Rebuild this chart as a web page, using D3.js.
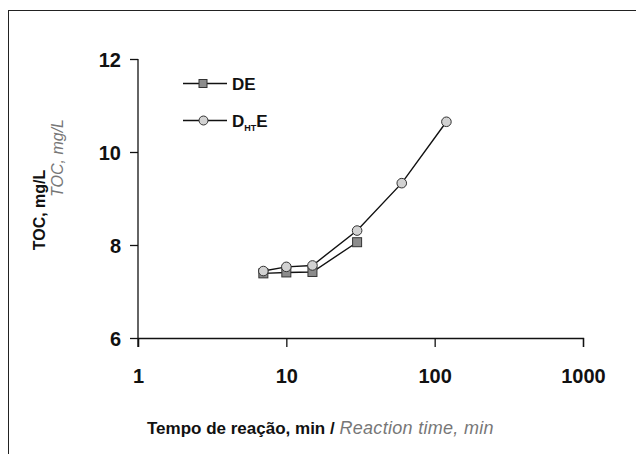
<!DOCTYPE html>
<html>
<head>
<meta charset="utf-8">
<script src="https://cdn.jsdelivr.net/npm/d3@7"></script>
<style>
  body { margin: 0; background: #fff; }
  text { font-family: "Liberation Sans", Arial, sans-serif; font-weight: bold; }
</style>
</head>
<body>
<div id="content"></div>
<script>
// reaction time (min) and TOC (mg/L)
var timeDE = [7, 10, 15, 30],
    tocDE = [7.39, 7.41, 7.42, 8.06],
    timeDHTE = [7, 10, 15, 30, 60, 120],
    tocDHTE = [7.44, 7.53, 7.56, 8.31, 9.33, 10.65],
    xTicks = [1, 10, 100, 1000],
    yTicks = [6, 8, 10, 12];

var width = 636,
    height = 454,
    svg = d3.select('#content').append('svg')
        .attr('width', width)
        .attr('height', height),

    xScale = d3.scaleLog().domain([1, 1000]).range([138, 583]),
    yScale = d3.scaleLinear().domain([6, 12]).range([338, 59]);

// frame
svg.append('rect')
    .attr('x', 8.5).attr('y', 10.5)
    .attr('width', 700).attr('height', 500)
    .attr('fill', 'none').attr('stroke', '#222').attr('stroke-width', 1);

var xAxis = d3.axisBottom(xScale)
        .tickValues(xTicks)
        .tickFormat(d3.format('d'))
        .tickSize(9)
        .tickPadding(22),
    yAxis = d3.axisLeft(yScale)
        .tickValues(yTicks)
        .tickFormat(d3.format('d'))
        .tickSize(8)
        .tickPadding(9);

var gx = svg.append('g')
    .attr('transform', 'translate(0,' + yScale(6) + ')')
    .call(xAxis);
var gy = svg.append('g')
    .attr('transform', 'translate(' + xScale(1) + ',0)')
    .call(yAxis);

[gx, gy].forEach(function(g){
    g.select('.domain').attr('stroke', '#111').attr('stroke-width', 1.3);
    g.selectAll('.tick line').attr('stroke', '#111').attr('stroke-width', 1.3);
    g.selectAll('.tick text')
        .attr('fill', '#111')
        .style('font-size', '20px')
        .style('font-family', '"Liberation Sans", Arial, sans-serif')
        .style('font-weight', 'bold');
});
// y axis runs a bit below the x axis, like in the figure
gy.select('.domain').attr('d', 'M0,' + yScale(12) + 'V' + (yScale(6) + 9));
gy.selectAll('.tick text').attr('dy', '0.36em');

// lines
var line = d3.line()
    .x(function(d){ return xScale(d[0]); })
    .y(function(d){ return yScale(d[1]); });

var dataDE = d3.zip(timeDE, tocDE),
    dataDHTE = d3.zip(timeDHTE, tocDHTE);

svg.append('path').datum(dataDE)
    .attr('d', line).attr('fill', 'none')
    .attr('stroke', '#111').attr('stroke-width', 1.4);
svg.append('path').datum(dataDHTE)
    .attr('d', line).attr('fill', 'none')
    .attr('stroke', '#111').attr('stroke-width', 1.4);

svg.selectAll('rect.de')
    .data(dataDE)
    .enter()
    .append('rect')
    .attr('class', 'de')
    .attr('x', function(d){ return xScale(d[0]) - 4.5; })
    .attr('y', function(d){ return yScale(d[1]) - 4.5; })
    .attr('width', 9).attr('height', 9)
    .attr('fill', '#8c8c8c').attr('stroke', '#333').attr('stroke-width', 1);

svg.selectAll('circle.dhte')
    .data(dataDHTE)
    .enter()
    .append('circle')
    .attr('class', 'dhte')
    .attr('cx', function(d){ return xScale(d[0]); })
    .attr('cy', function(d){ return yScale(d[1]); })
    .attr('r', 4.8)
    .attr('fill', '#d2d2d2').attr('stroke', '#333').attr('stroke-width', 1);

// legend
var leg = svg.append('g');
leg.append('line').attr('x1', 183).attr('x2', 227).attr('y1', 83.5).attr('y2', 83.5)
    .attr('stroke', '#111').attr('stroke-width', 1.3);
leg.append('rect').attr('x', 199).attr('y', 79.5).attr('width', 8).attr('height', 8)
    .attr('fill', '#8c8c8c').attr('stroke', '#333');
leg.append('text').attr('x', 232).attr('y', 89.5)
    .style('font-size', '17px').attr('fill', '#111').text('DE');

leg.append('line').attr('x1', 183).attr('x2', 227).attr('y1', 120.5).attr('y2', 120.5)
    .attr('stroke', '#111').attr('stroke-width', 1.3);
leg.append('circle').attr('cx', 203.5).attr('cy', 120.5).attr('r', 4.5)
    .attr('fill', '#d2d2d2').attr('stroke', '#333');
var lt = leg.append('text').attr('x', 232).attr('y', 126.5)
    .style('font-size', '17px').attr('fill', '#111');
lt.append('tspan').text('D');
lt.append('tspan').attr('dy', 4).style('font-size', '9px').text('HT');
lt.append('tspan').attr('dy', -4).text('E');

// axis titles
var xt = svg.append('text').attr('x', 147).attr('y', 434)
    .style('font-size', '17px').attr('fill', '#111');
xt.append('tspan').text('Tempo de reação, min  / ');
xt.append('tspan').attr('fill', '#777').style('font-style', 'italic')
    .style('font-weight', 'normal').style('font-size', '18px')
    .style('letter-spacing', '0.3px').text('Reaction time, min');

svg.append('text')
    .attr('transform', 'translate(45,210) rotate(-90)')
    .attr('text-anchor', 'middle')
    .style('font-size', '16px').attr('fill', '#111')
    .text('TOC, mg/L');
svg.append('text')
    .attr('transform', 'translate(63,158) rotate(-90)')
    .attr('text-anchor', 'middle')
    .style('font-size', '16px').attr('fill', '#777')
    .style('font-style', 'italic').style('font-weight', 'normal')
    .text('TOC, mg/L');
</script>
</body>
</html>
